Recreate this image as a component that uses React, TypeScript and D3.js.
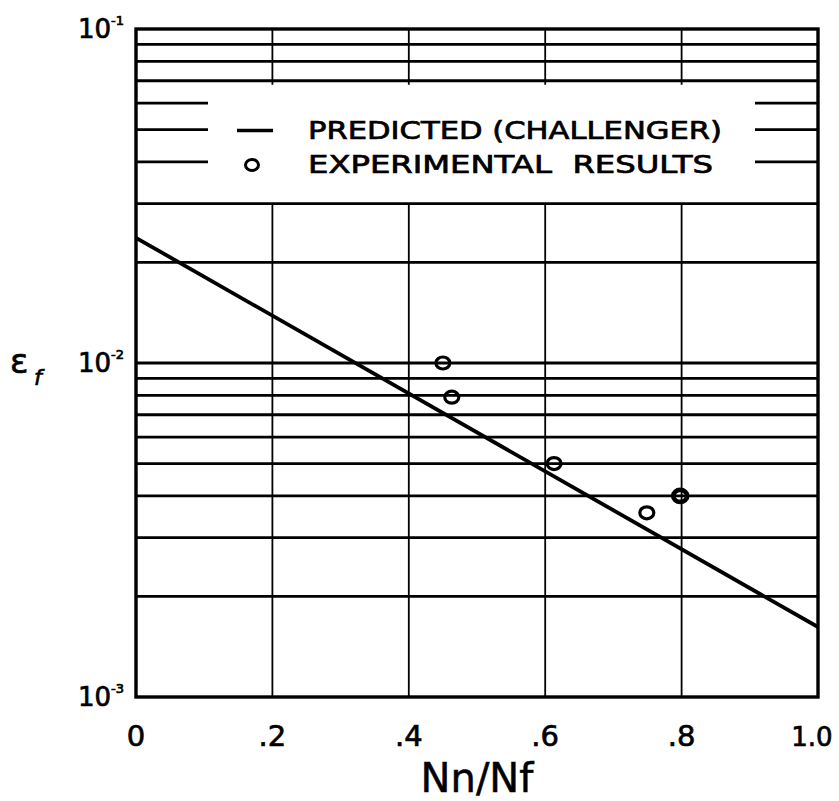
import React from "react";
import * as d3 from "d3";

const WIDTH = 839;
const HEIGHT = 801;

// plot frame (pixels)
const LEFT = 136;
const RIGHT = 818;
const TOP = 29;
const BOTTOM = 697;

// x axis ticks
const xTicks = [0, 0.2, 0.4, 0.6, 0.8, 1.0];
const xTickLabels = ["0", ".2", ".4", ".6", ".8", "1.0"];

// y axis decade labels
const yDecades = [1e-1, 1e-2, 1e-3];
const yDecadeExp = ["-1", "-2", "-3"];

// grid rows hidden behind the legend (only short stubs drawn)
const legendRows = [0.06, 0.05, 0.04];

// predicted (Challenger) line
const predictedX = [0, 1.0];
const predictedStrain = [0.0237, 0.00162];

// experimental results
const expX = [0.45, 0.463, 0.613, 0.749, 0.798];
const expStrain = [0.01, 0.0079, 0.005, 0.00356, 0.004];

const FONT = "'DejaVu Sans', 'Liberation Sans', sans-serif";

export default function App() {
  const x = d3.scaleLinear().domain([0, 1]).range([LEFT, RIGHT]);
  const y = d3.scaleLog().domain([1e-3, 1e-1]).range([BOTTOM, TOP]);

  const gridValues = y.ticks().filter((v) => v > 1.0001e-3 && v < 0.0999);

  const line = d3
    .line<number>()
    .x((_, i) => x(predictedX[i]))
    .y((d) => y(d));

  const stubLeftEnd = 208;
  const stubRightStart = 755;
  const gapTop = y(0.07) + 4;
  const gapBottom = y(0.03);

  // slight outline to mimic hand lettering weight
  const ink = { fill: "#000", stroke: "#000", strokeWidth: 0.7 };

  return (
    <svg
      width={WIDTH}
      height={HEIGHT}
      style={{ position: "absolute", left: 0, top: 0, background: "#fff" }}
    >
      {/* horizontal grid */}
      {gridValues.map((v) => {
        const isLegendRow = legendRows.some((r) => Math.abs(r - v) < 1e-6);
        if (isLegendRow) {
          return (
            <g key={v}>
              <line x1={LEFT} x2={stubLeftEnd} y1={y(v)} y2={y(v)} stroke="#000" strokeWidth={2.8} />
              <line x1={stubRightStart} x2={RIGHT} y1={y(v)} y2={y(v)} stroke="#000" strokeWidth={2.8} />
            </g>
          );
        }
        return (
          <line key={v} x1={LEFT} x2={RIGHT} y1={y(v)} y2={y(v)} stroke="#000" strokeWidth={2.8} />
        );
      })}

      {/* vertical grid */}
      {xTicks.slice(1, -1).map((t) => (
        <g key={t}>
          <line x1={x(t)} x2={x(t)} y1={TOP} y2={gapTop} stroke="#000" strokeWidth={1.8} />
          <line x1={x(t)} x2={x(t)} y1={gapBottom} y2={BOTTOM} stroke="#000" strokeWidth={1.8} />
        </g>
      ))}

      {/* frame */}
      <rect
        x={LEFT}
        y={TOP}
        width={RIGHT - LEFT}
        height={BOTTOM - TOP}
        fill="none"
        stroke="#000"
        strokeWidth={3.4}
      />

      {/* predicted line */}
      <path d={line(predictedStrain) || ""} fill="none" stroke="#000" strokeWidth={3.8} />

      {/* experimental points */}
      {expX.map((v, i) => (
        <ellipse
          key={i}
          cx={x(v)}
          cy={y(expStrain[i])}
          rx={7}
          ry={6}
          fill="none"
          stroke="#000"
          strokeWidth={i === 4 ? 4.6 : 3.2}
        />
      ))}

      {/* legend */}
      <line x1={237} x2={273} y1={y(0.05) + 1} y2={y(0.05) + 1} stroke="#000" strokeWidth={3.4} />
      <ellipse cx={252} cy={y(0.04) + 3} rx={6.5} ry={5.5} fill="none" stroke="#000" strokeWidth={3} />
      <text
        x={308}
        y={y(0.05) + 9}
        fontFamily={FONT}
        fontSize={24}
        textLength={414}
        lengthAdjust="spacingAndGlyphs"
        {...ink}
      >
        PREDICTED (CHALLENGER)
      </text>
      <text
        x={308}
        y={y(0.04) + 11}
        fontFamily={FONT}
        fontSize={24}
        textLength={405}
        lengthAdjust="spacingAndGlyphs"
        style={{ whiteSpace: "pre" }}
        {...ink}
      >
        {"EXPERIMENTAL  RESULTS"}
      </text>

      {/* y decade labels */}
      {yDecades.map((v, i) => (
        <text
          key={v}
          x={124}
          y={y(v) + 9}
          textAnchor="end"
          fontFamily={FONT}
          fontSize={26}
          {...ink}
        >
          10
          <tspan fontSize={13} dy={-13}>
            {yDecadeExp[i]}
          </tspan>
        </text>
      ))}

      {/* y axis title */}
      <text x={10} y={y(0.01) + 10} fontFamily={FONT} fontSize={34} {...ink}>
        ε
      </text>
      <text x={34} y={y(0.01) + 22} fontFamily={FONT} fontSize={22} fontStyle="italic" {...ink}>
        f
      </text>

      {/* x tick labels */}
      {xTicks.map((t, i) => {
        const last = i === xTicks.length - 1;
        return (
          <text
            key={t}
            x={last ? x(t) - 6 : x(t)}
            y={746}
            textAnchor="middle"
            fontFamily={FONT}
            fontSize={last ? 26 : 29}
            {...ink}
          >
            {xTickLabels[i]}
          </text>
        );
      })}

      {/* x axis title */}
      <text
        x={(LEFT + RIGHT) / 2}
        y={792}
        textAnchor="middle"
        fontFamily={FONT}
        fontSize={40}
        {...ink}
        strokeWidth={0.5}
      >
        Nn/Nf
      </text>
    </svg>
  );
}
